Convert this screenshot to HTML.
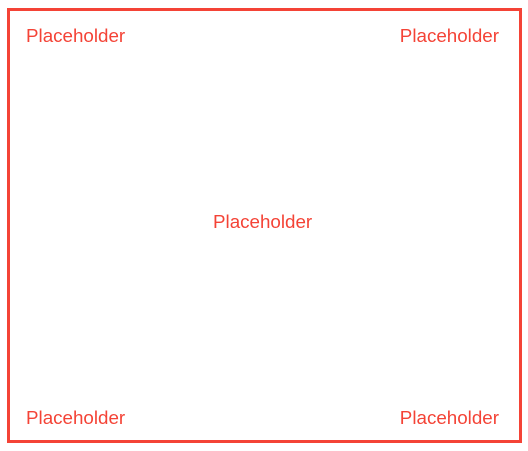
<!DOCTYPE html>
<html><head><meta charset="utf-8"><style>
html,body{margin:0;padding:0;background:#fff;width:528px;height:451px;overflow:hidden}
#frame{position:absolute;left:7px;top:8px;width:509px;height:429px;border:3px solid #f44336;}
.t{position:absolute;font-family:"Liberation Sans",sans-serif;font-size:18.8px;color:#f44336;line-height:20px;white-space:nowrap}
</style></head><body>
<div id="frame"></div>
<div class="t" style="left:26px;top:26px">Placeholder</div>
<div class="t" style="right:29px;top:26px">Placeholder</div>
<div class="t" style="left:213px;top:212px">Placeholder</div>
<div class="t" style="left:26px;top:408px">Placeholder</div>
<div class="t" style="right:29px;top:408px">Placeholder</div>
</body></html>
